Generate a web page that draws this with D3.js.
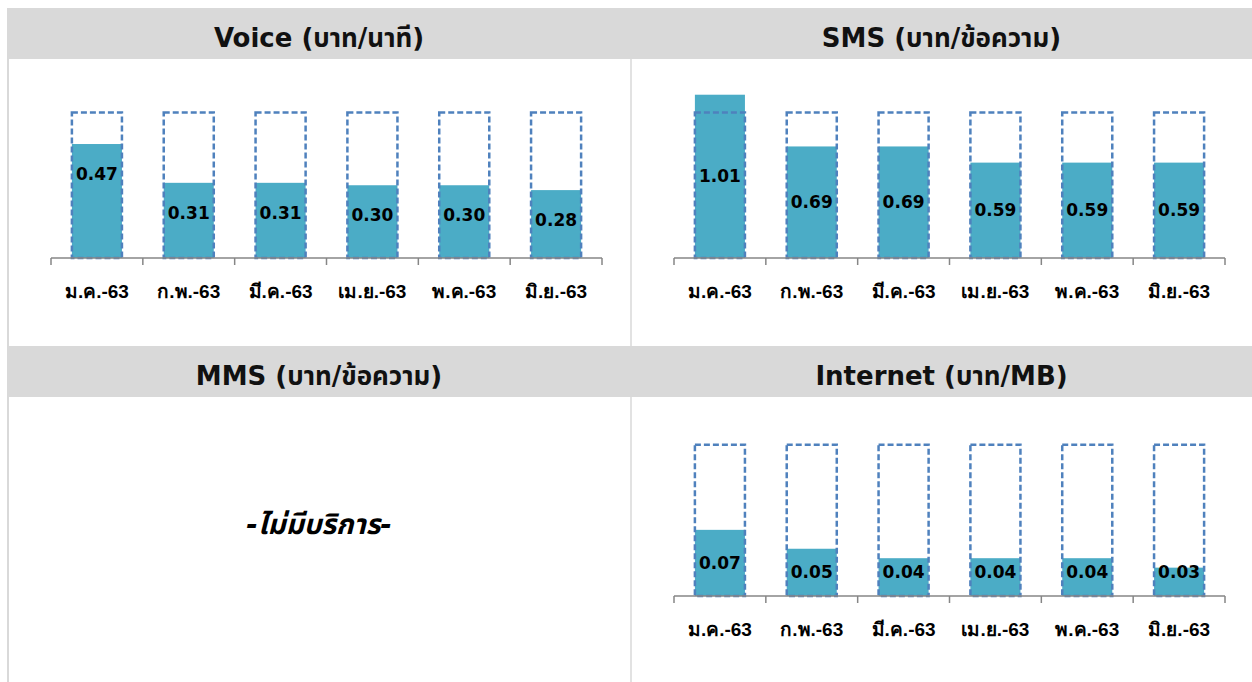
<!DOCTYPE html>
<html>
<head>
<meta charset="utf-8">
<script src="https://cdn.jsdelivr.net/npm/d3@7/dist/d3.min.js"></script>
<style>
  html, body { margin: 0; padding: 0; background: #ffffff; }
  svg { display: block; font-family: Tahoma, "DejaVu Sans", "Noto Sans Thai", "Noto Sans", sans-serif; }
</style>
</head>
<body>
<svg id="chart" width="1252" height="682"></svg>
<script>
// Monthly average prices, Jan–Jun 2563
const months = ["ม.ค.-63", "ก.พ.-63", "มี.ค.-63", "เม.ย.-63", "พ.ค.-63", "มิ.ย.-63"];
const voiceValues = [0.47, 0.31, 0.31, 0.30, 0.30, 0.28];
const smsValues = [1.01, 0.69, 0.69, 0.59, 0.59, 0.59];
const internetValues = [0.07, 0.05, 0.04, 0.04, 0.04, 0.03];

// Price ceilings drawn as dashed outlines
const voiceCeiling = 0.60;
const smsCeiling = 0.90;
const internetCeiling = 0.16;

// Axis maxima (value axes are hidden)
const voiceAxisMax = 0.8;
const smsAxisMax = 1.2;
const internetAxisMax = 0.2;

const panelTitles = ["Voice (บาท/นาที)", "SMS (บาท/ข้อความ)", "MMS (บาท/ข้อความ)", "Internet (บาท/MB)"];
const mmsNote = "-ไม่มีบริการ-";

const svg = d3.select("#chart");
const W = 1252, H = 682;
const fillColor = "#4bacc6";
const outlineColor = "#4f81bd";
const gridGray = "#d9d9d9";

// Table frame: header bands and dividers
const cellLeft = 7, cellMid = 631, cellRight = W;
const headerRows = [{ y: 8, h: 51 }, { y: 346, h: 51 }];

headerRows.forEach(r => {
  svg.append("rect").attr("x", cellLeft).attr("y", r.y)
    .attr("width", cellRight - cellLeft).attr("height", r.h).attr("fill", gridGray);
});
// left border
svg.append("line").attr("x1", cellLeft + 1).attr("x2", cellLeft + 1)
  .attr("y1", 8).attr("y2", H).attr("stroke", gridGray).attr("stroke-width", 2);
// centre divider (body parts only)
[[59, 346], [397, H]].forEach(([a, b]) => {
  svg.append("line").attr("x1", cellMid).attr("x2", cellMid)
    .attr("y1", a).attr("y2", b).attr("stroke", gridGray).attr("stroke-width", 1.5);
});

const cellCenters = [(cellLeft + cellMid) / 2, (cellMid + cellRight) / 2];
panelTitles.forEach((t, i) => {
  const row = Math.floor(i / 2), col = i % 2;
  svg.append("text")
    .attr("x", cellCenters[col])
    .attr("y", headerRows[row].y + headerRows[row].h / 2 + 4)
    .attr("text-anchor", "middle")
    .attr("dominant-baseline", "central")
    .attr("font-size", 26)
    .attr("font-weight", "bold")
    .attr("fill", "#111")
    .text(t);
});

// MMS: no service
svg.append("text")
  .attr("x", cellCenters[0])
  .attr("y", 524)
  .attr("text-anchor", "middle")
  .attr("dominant-baseline", "central")
  .attr("font-size", 28)
  .attr("font-style", "italic")
  .attr("font-weight", "bold")
  .attr("fill", "#000")
  .text(mmsNote);

function drawPanel(opts) {
  const { values, ceiling, axisMax, x0, x1, top, baseline, labelMode } = opts;
  const g = svg.append("g");

  const x = d3.scaleBand().domain(months).range([x0, x1])
    .paddingInner(0.455).paddingOuter(0.2275);
  const y = d3.scaleLinear().domain([0, axisMax]).range([baseline, top]);

  // value bars
  g.selectAll("rect.val").data(values).join("rect")
    .attr("class", "val")
    .attr("x", (d, i) => x(months[i]))
    .attr("width", x.bandwidth())
    .attr("y", d => y(d))
    .attr("height", d => y(0) - y(d))
    .attr("fill", fillColor);

  // ceiling outlines
  g.selectAll("rect.cap").data(months).join("rect")
    .attr("class", "cap")
    .attr("x", m => x(m))
    .attr("width", x.bandwidth())
    .attr("y", y(ceiling))
    .attr("height", y(0) - y(ceiling))
    .attr("fill", "none")
    .attr("stroke", outlineColor)
    .attr("stroke-width", 2.5)
    .attr("stroke-dasharray", "6,3");

  // category axis with boundary ticks
  const axis = d3.axisBottom(x).tickSize(0).tickPadding(27);
  const ag = g.append("g").attr("transform", `translate(0,${baseline})`).call(axis);
  ag.select(".domain").attr("stroke", "#868686").attr("stroke-width", 1.5)
    .attr("d", `M${x0},0H${x1}`);
  ag.selectAll(".tick text").attr("font-size", 19).attr("font-weight", "bold")
    .attr("fill", "#000").attr("font-family", null);
  const half = (x.step() - x.bandwidth()) / 2;
  const bounds = months.map(m => x(m) - half).concat([x(months[months.length - 1]) + x.bandwidth() + half]);
  ag.selectAll("line.bound").data(bounds).join("line")
    .attr("class", "bound")
    .attr("x1", d => d).attr("x2", d => d)
    .attr("y1", 0).attr("y2", 7)
    .attr("stroke", "#868686").attr("stroke-width", 1.5);

  // value labels
  g.selectAll("text.val").data(values).join("text")
    .attr("class", "val")
    .attr("x", (d, i) => x(months[i]) + x.bandwidth() / 2)
    .attr("y", d => {
      if (labelMode === "nearTop") return y(d) + 30;
      const mid = (y(d) + y(0)) / 2;
      return Math.min(mid, baseline - 24);
    })
    .attr("text-anchor", "middle")
    .attr("dominant-baseline", "central")
    .attr("font-size", 17)
    .attr("font-weight", "bold")
    .attr("fill", "#000")
    .text(d => d.toFixed(2));
}

drawPanel({ values: voiceValues, ceiling: voiceCeiling, axisMax: voiceAxisMax,
  x0: 51, x1: 602, top: 64, baseline: 258, labelMode: "nearTop" });
drawPanel({ values: smsValues, ceiling: smsCeiling, axisMax: smsAxisMax,
  x0: 674, x1: 1225, top: 64, baseline: 258, labelMode: "middle" });
drawPanel({ values: internetValues, ceiling: internetCeiling, axisMax: internetAxisMax,
  x0: 674, x1: 1225, top: 407, baseline: 596, labelMode: "middle" });
</script>
</body>
</html>
